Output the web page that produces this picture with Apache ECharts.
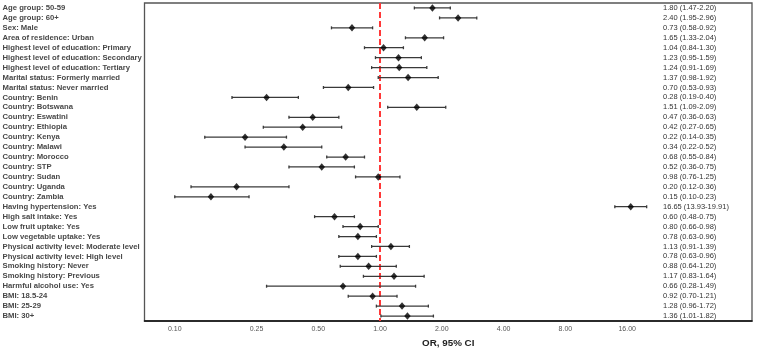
<!DOCTYPE html>
<html><head><meta charset="utf-8">
<script src="https://cdn.jsdelivr.net/npm/echarts@6/dist/echarts.min.js"></script>
<style>html,body{margin:0;padding:0;background:#fff}#c{width:757px;height:348px}</style>
</head><body><div id="c"></div>
<script>
const categories = [
"Age group: 50-59","Age group: 60+","Sex: Male","Area of residence: Urban",
"Highest level of education: Primary","Highest level of education: Secondary","Highest level of education: Tertiary",
"Marital status: Formerly married","Marital status: Never married",
"Country: Benin","Country: Botswana","Country: Eswatini","Country: Ethiopia","Country: Kenya","Country: Malawi",
"Country: Morocco","Country: STP","Country: Sudan","Country: Uganda","Country: Zambia",
"Having hypertension: Yes","High salt intake: Yes","Low fruit uptake: Yes","Low vegetable uptake: Yes",
"Physical activity level: Moderate level","Physical activity level: High level",
"Smoking history: Never","Smoking history: Previous","Harmful alcohol use: Yes",
"BMI: 18.5-24","BMI: 25-29","BMI: 30+"];
const orValues = [1.80,2.40,0.73,1.65,1.04,1.23,1.24,1.37,0.70,0.28,1.51,0.47,0.42,0.22,0.34,0.68,0.52,0.98,0.20,0.15,16.65,0.60,0.80,0.78,1.13,0.78,0.88,1.17,0.66,0.92,1.28,1.36];
const ciLow = [1.47,1.95,0.58,1.33,0.84,0.95,0.91,0.98,0.53,0.19,1.09,0.36,0.27,0.14,0.22,0.55,0.36,0.76,0.12,0.10,13.93,0.48,0.66,0.63,0.91,0.63,0.64,0.83,0.28,0.70,0.96,1.01];
const ciHigh = [2.20,2.96,0.92,2.04,1.30,1.59,1.69,1.92,0.93,0.40,2.09,0.63,0.65,0.35,0.52,0.84,0.75,1.25,0.36,0.23,19.91,0.75,0.98,0.96,1.39,0.96,1.20,1.64,1.49,1.21,1.72,1.82];
const tickValues = [0.10,0.25,0.50,1.00,2.00,4.00,8.00,16.00];
const refValue = 1;

const rightText = orValues.map((v,i)=> v.toFixed(2)+' ('+ciLow[i].toFixed(2)+'-'+ciHigh[i].toFixed(2)+')');
const chart = echarts.init(document.getElementById('c'));
chart.setOption({
  animation:false,
  grid:{left:144.5,right:5,top:3,bottom:27,show:true,borderColor:'#555',borderWidth:1.3,containLabel:false,outerBoundsMode:'none'},
  xAxis:{type:'log',logBase:2,min:0.0712,max:64.9,
    axisLine:{show:true,lineStyle:{color:'#111',width:1.5}},
    axisTick:{show:false},splitLine:{show:false},
    axisLabel:{customValues:tickValues,fontSize:7,color:'#555',margin:5,fontFamily:'Liberation Sans',
      formatter:v=>Number(v).toFixed(2)},
    name:'OR, 95% CI',nameLocation:'middle',nameGap:14,
    nameTextStyle:{fontSize:9.8,fontWeight:'bold',color:'#222',fontFamily:'Liberation Sans'}},
  yAxis:[
    {type:'category',data:categories,inverse:true,boundaryGap:true,
     axisLine:{show:false},axisTick:{show:false},splitLine:{show:false},
     axisLabel:{interval:0,align:'left',margin:142,fontSize:7.7,fontWeight:'bold',color:'#484848',fontFamily:'Liberation Sans'}},
    {type:'category',data:rightText,inverse:true,position:'right',boundaryGap:true,
     axisLine:{show:false},axisTick:{show:false},splitLine:{show:false},
     axisLabel:{interval:0,align:'left',margin:-89,fontSize:7.5,color:'#333',fontFamily:'Liberation Sans'}}
  ],
  series:[
    {type:'custom',yAxisIndex:0,
     data:categories.map((c,i)=>[i,ciLow[i],ciHigh[i]]),
     encode:{x:[1,2],y:0},
     renderItem:function(params,api){
       const y=api.value(0);
       const p1=api.coord([api.value(1),y]);
       const p2=api.coord([api.value(2),y]);
       const st={stroke:'#3a3a3a',lineWidth:1.3};
       return {type:'group',children:[
         {type:'line',shape:{x1:p1[0],y1:p1[1],x2:p2[0],y2:p2[1]},style:st},
         {type:'line',shape:{x1:p1[0],y1:p1[1]-1.5,x2:p1[0],y2:p1[1]+1.5},style:st},
         {type:'line',shape:{x1:p2[0],y1:p2[1]-1.5,x2:p2[0],y2:p2[1]+1.5},style:st}
       ]};
     }},
    {type:'scatter',yAxisIndex:0,symbol:'diamond',symbolSize:[6.5,7.5],
     itemStyle:{color:'#000'},z:3,
     data:orValues.map((v,i)=>[v,i]),
     markLine:{silent:true,symbol:'none',label:{show:false},z:2,
       lineStyle:{color:'#ff3838',type:[6,3],width:2},
       data:[{xAxis:refValue}]}}
  ]
});
</script></body></html>
